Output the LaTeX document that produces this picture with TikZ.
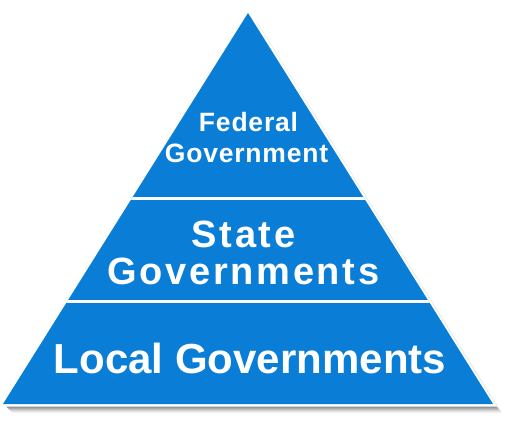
\documentclass[tikz,border=0pt]{standalone}
\usepackage{fontspec}
\setmainfont{Liberation Sans}
\newfontfamily\spacedfont[LetterSpace=7]{Liberation Sans}
\newfontfamily\fedfont[LetterSpace=3]{Liberation Sans}
\definecolor{pyrblue}{HTML}{0A7ED6}
\begin{document}
\begin{tikzpicture}[x=1pt,y=-1pt,
  lbl/.style={text=white,inner sep=0pt,anchor=base}]
\useasboundingbox (0,0) rectangle (510,430);
\coordinate (A) at (248,13);
\coordinate (L) at (3,404);
\coordinate (R) at (493,404);
% shadow (soft, layered)
\foreach \d/\c in {9/5,8/10,7/16,6/24,5/32,4/40,3/48}{
  \fill[black!\c] ([shift={(\d,\d)}]A) -- ([shift={(\d,\d)}]R) -- ([shift={(\d,\d)}]L) -- cycle;
}
% white border
\fill[white] (248,8.5) -- (497,406.5) -- (-1,406.5) -- cycle;
% pyramid body
\fill[pyrblue] (A) -- (R) -- (L) -- cycle;
% separators
\begin{scope}
\clip (A) -- (R) -- (L) -- cycle;
\draw[white,line width=3pt] (0,198.5) -- (510,198.5);
\draw[white,line width=3pt] (0,301.5) -- (510,301.5);
\end{scope}
% labels
\node[lbl,font=\fedfont\bfseries\fontsize{26.5}{30}\selectfont] (fed1) at (248.5,132) {Federal};
\node[lbl,font=\fedfont\bfseries\fontsize{26.5}{30}\selectfont] (fed2) at (246.5,163) {Government};
\node[lbl,font=\spacedfont\bfseries\fontsize{38}{40}\selectfont] (state1) at (243.5,247) {State};
\node[lbl,font=\spacedfont\bfseries\fontsize{38}{40}\selectfont] (state2) at (243.5,284) {Governments};
\node[lbl,font=\bfseries\fontsize{42}{44}\selectfont] (local) at (250,373) {Local Governments};
\end{tikzpicture}
\end{document}
